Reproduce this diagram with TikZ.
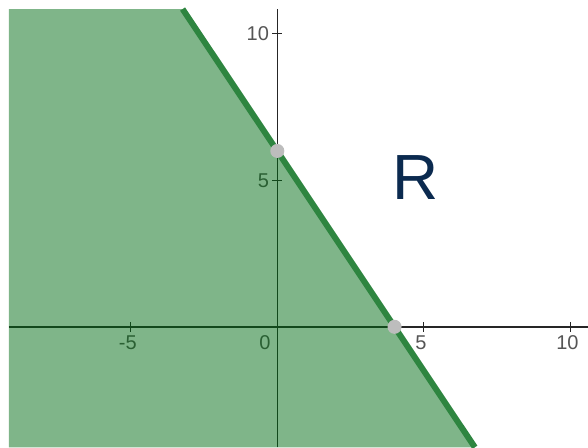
\documentclass[tikz,border=0pt]{standalone}
\usepackage{fontspec}
\setmainfont{Liberation Sans}
\usetikzlibrary{calc}
\definecolor{regiongreen}{HTML}{006B13}
\definecolor{edgegreen}{HTML}{2E8540}
\definecolor{ticklabel}{HTML}{555555}
\definecolor{rnavy}{HTML}{0B2A4F}
\definecolor{dotgray}{HTML}{BDBDBD}

\begin{document}
\begin{tikzpicture}[x=0.5cm,y=0.5cm,font=\fontsize{9.7}{11}\selectfont]
      \useasboundingbox (-9.46,-4.11) rectangle (10.60,11.15);
      % axes and ticks
      \draw[line width=0.7pt,black!85] (-9.16,0) -- (10.60,0);
      \draw[line width=0.7pt,black!85] (0,-4.11) -- (0,10.84);
      \foreach \t in {-5,5,10}
        \draw[line width=0.6pt,black!85] (\t,-0.17) -- (\t,0.17);
      \foreach \t in {5,10}
        \draw[line width=0.6pt,black!85] (-0.17,\t) -- (0.17,\t);
      \foreach \t in {-5,5,10}
        \node[ticklabel,anchor=center] (xl\t) at (\t-0.1,-0.55) {\t};
      \node[ticklabel,anchor=center] (xl0) at (-0.42,-0.55) {0};
      \foreach \t in {5,10}
        \node[ticklabel,left,inner sep=1pt] (yl\t) at (-0.2,\t) {\t};
      % half-plane
      \coordinate (top) at (-3.23,10.84);
      \coordinate (bot) at (6.74,-4.11);
      \fill[regiongreen,opacity=0.5] (-9.16,10.84) -- (top) -- (bot) -- (-9.16,-4.11) -- cycle;
      \draw[edgegreen,line width=2.9pt] (top) -- (bot);
      \foreach \x/\y in {0/6,4/0}
        \fill[dotgray] (\x,\y) circle (0.12cm);
      \node[rnavy,font=\fontsize{31}{34}\selectfont] (lblR) at (4.70,5.11) {R};
    \end{tikzpicture}
\end{document}
